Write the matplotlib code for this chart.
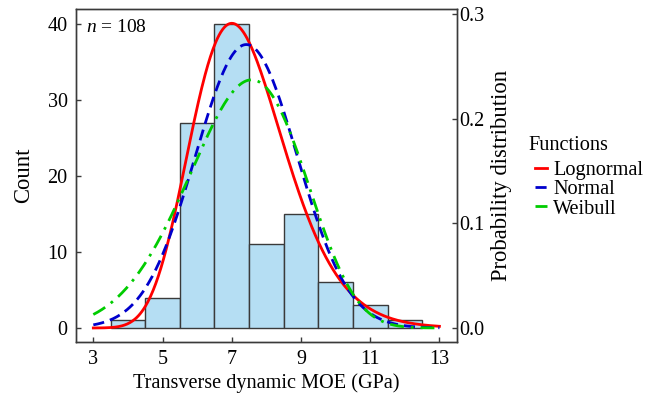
"""Histogram of transverse dynamic MOE with fitted distribution curves."""

import matplotlib

matplotlib.use("Agg")
import matplotlib.pyplot as plt
import numpy as np

plt.rcParams["font.family"] = ["Liberation Serif", "DejaVu Serif"]
plt.rcParams["mathtext.fontset"] = "custom"
plt.rcParams["mathtext.it"] = "Liberation Serif:italic"
plt.rcParams["mathtext.rm"] = "Liberation Serif"

# Histogram bins (centres, width 1 GPa) and counts
bin_centers = [4, 5, 6, 7, 8, 9, 10, 11, 12]
counts = [1, 4, 27, 40, 11, 15, 6, 3, 1]
n_total = 108

# Fitted distribution parameters
lognorm_mu, lognorm_sigma = 1.983, 0.192
norm_mean, norm_sd = 7.42, 1.472
weib_shape, weib_scale = 5.0, 7.92

x_ticks = [3, 5, 7, 9, 11, 13]
left_ticks = [0, 10, 20, 30, 40]
right_ticks = [0.0, 0.1, 0.2, 0.3]

EDGE = "#3a3a3a"
TICK_FS = 14.5


def lognormal_pdf(x, mu, s):
    return np.exp(-((np.log(x) - mu) ** 2) / (2 * s**2)) / (x * s * np.sqrt(2 * np.pi))


def normal_pdf(x, m, s):
    return np.exp(-((x - m) ** 2) / (2 * s**2)) / (s * np.sqrt(2 * np.pi))


def weibull_pdf(x, k, lam):
    return (k / lam) * (x / lam) ** (k - 1) * np.exp(-((x / lam) ** k))


fig = plt.figure(figsize=(6.61, 4.0), dpi=100)
ax = fig.add_axes([0.115, 0.145, 0.576, 0.8325])

ax.bar(bin_centers, counts, width=1.0, color="#b5def3", edgecolor=EDGE, linewidth=1.0)
ax.set_xlim(2.5, 13.5)
ax.set_ylim(-1.85, 42)
ax.set_xticks(x_ticks)
ax.set_yticks(left_ticks)
ax.set_xlabel("Transverse dynamic MOE (GPa)", fontsize=14.6, labelpad=3)
ax.set_ylabel("Count", fontsize=16.3)
ax.yaxis.set_label_coords(-0.11, 0.5)
ax.text(0.025, 0.945, rf"$n$ = {n_total}", transform=ax.transAxes,
        fontsize=14, ha="left", va="center")

ax2 = ax.twinx()
xs = np.linspace(3, 13, 400)
ax2.plot(xs, lognormal_pdf(xs, lognorm_mu, lognorm_sigma), color="#ff0000",
         lw=2.0, label="Lognormal")
ax2.plot(xs, normal_pdf(xs, norm_mean, norm_sd), color="#0000cc",
         lw=2.0, ls=(0, (4, 2.2)), label="Normal")
ax2.plot(xs, weibull_pdf(xs, weib_shape, weib_scale), color="#00cc00",
         lw=2.0, ls=(0, (5, 2.5, 1, 2.5)), label="Weibull")
ax2.set_ylim(-0.0134, 0.305)
ax2.set_yticks(right_ticks)
ax2.set_yticklabels([f"{v:.1f}" for v in right_ticks])
ax2.set_ylabel("Probability distribution", fontsize=16.3)
ax2.yaxis.set_label_coords(1.09, 0.5)

for a in (ax, ax2):
    for spine in a.spines.values():
        spine.set_color(EDGE)
        spine.set_linewidth(1.0)
    a.tick_params(labelsize=TICK_FS, color=EDGE, direction="in", length=3.5, width=1.0)
ax.tick_params(axis="y", pad=6)
ax.tick_params(axis="x", pad=6)
ax2.tick_params(axis="y", pad=1.5)

leg = ax2.legend(loc="upper left", bbox_to_anchor=(535 / 661, 1 - 161 / 400),
                 bbox_transform=fig.transFigure, frameon=False,
                 fontsize=14.6, handlelength=0.6, handletextpad=0.3,
                 labelspacing=0.0, borderpad=0, borderaxespad=0)
fig.text(528 / 661, 1 - 145 / 400, "Functions", fontsize=14.6, ha="left", va="center")

fig.savefig("out.png", dpi=100)
